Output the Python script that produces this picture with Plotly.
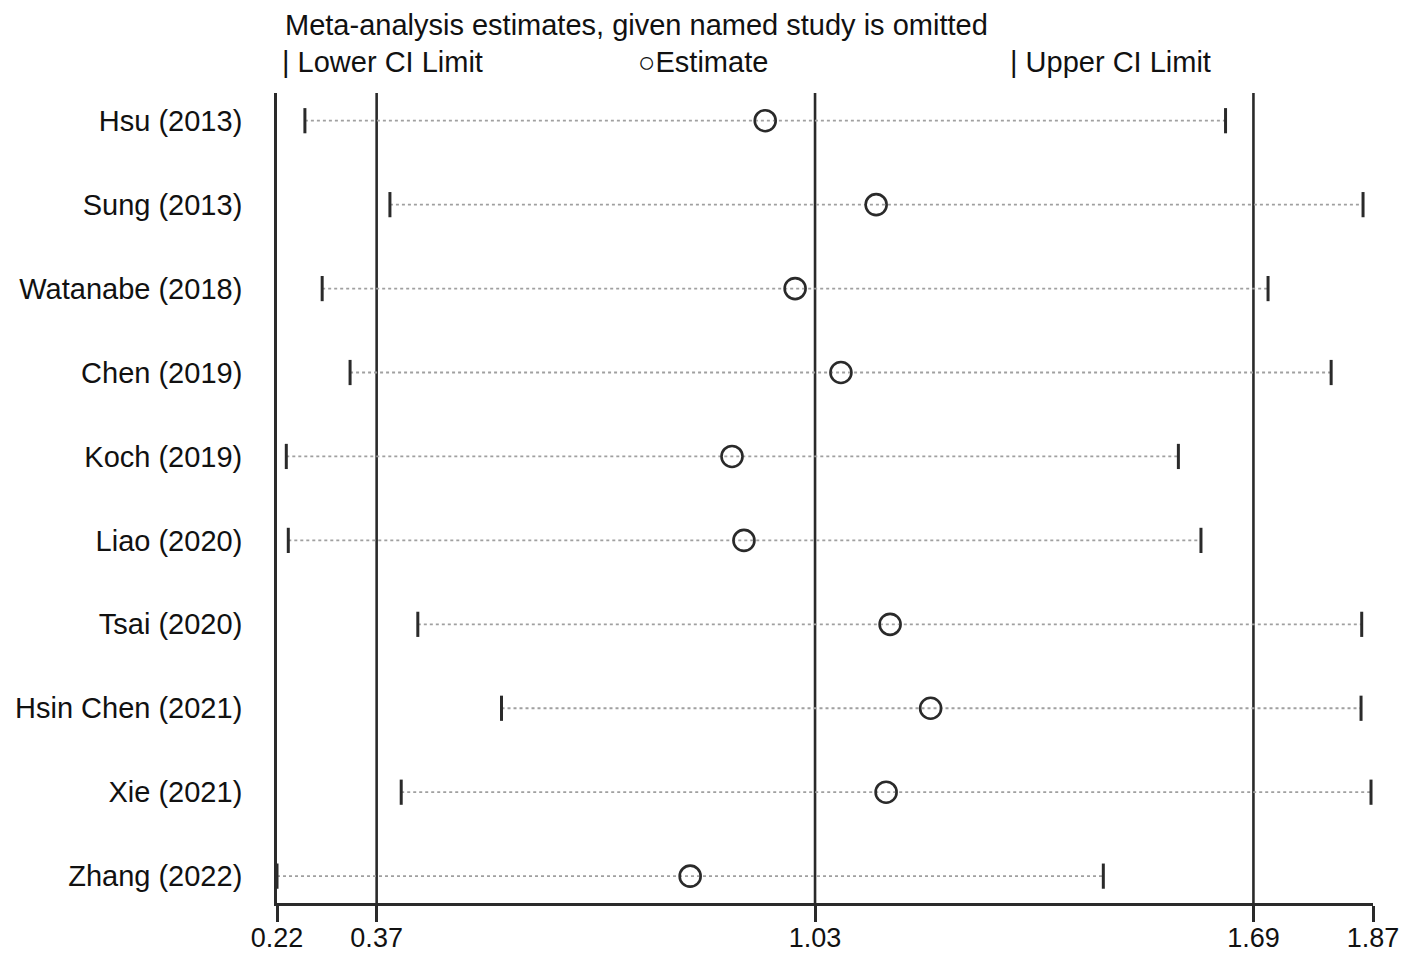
import plotly.graph_objects as go

studies = ["Hsu (2013)", "Sung (2013)", "Watanabe (2018)", "Chen (2019)", "Koch (2019)",
           "Liao (2020)", "Tsai (2020)", "Hsin Chen (2021)", "Xie (2021)", "Zhang (2022)"]
lower = [0.262, 0.390, 0.288, 0.330, 0.234, 0.237, 0.432, 0.558, 0.407, 0.220]
estimate = [0.955, 1.122, 1.000, 1.069, 0.905, 0.923, 1.143, 1.204, 1.137, 0.842]
upper = [1.648, 1.855, 1.712, 1.807, 1.577, 1.611, 1.853, 1.852, 1.867, 1.464]
ref_lines = [0.37, 1.03, 1.69]
x_ticks = [0.22, 0.37, 1.03, 1.69, 1.87]
x_tick_labels = ["0.22", "0.37", "1.03", "1.69", "1.87"]

FONT = "Liberation Sans, Arial, sans-serif"
DARK = "#2a2a2a"

# page offset (body margin) compensation
OFF = 8
W, H = 1417 - OFF, 956 - OFF
L, T = 277 - OFF, 93 - OFF
PW, PH = 1096, 810
R = W - L - PW
B = H - T - PH

fig = go.Figure()

for s, lo, up in zip(studies, lower, upper):
    fig.add_trace(go.Scatter(x=[lo, up], y=[s, s], mode="lines",
                             line=dict(color="#a0a0a0", width=1.8, dash="dot"),
                             showlegend=False, hoverinfo="skip"))

fig.add_trace(go.Scatter(x=lower, y=studies, mode="markers",
                         marker=dict(symbol="line-ns", size=18, line=dict(color=DARK, width=3)),
                         showlegend=False))
fig.add_trace(go.Scatter(x=upper, y=studies, mode="markers",
                         marker=dict(symbol="line-ns", size=18, line=dict(color=DARK, width=3)),
                         showlegend=False))
fig.add_trace(go.Scatter(x=estimate, y=studies, mode="markers",
                         marker=dict(symbol="circle-open", size=21, color=DARK, line=dict(width=2.6)),
                         showlegend=False))

for v in ref_lines:
    fig.add_shape(type="line", x0=v, x1=v, y0=0, y1=1, xref="x", yref="paper",
                  line=dict(color=DARK, width=2.6), layer="below")

fig.update_xaxes(range=[0.22, 1.87], tickvals=x_ticks, ticktext=x_tick_labels,
                 showgrid=False, zeroline=False, showline=True, linecolor=DARK, linewidth=2.8,
                 ticks="outside", ticklen=16, tickwidth=2.8, tickcolor=DARK, automargin=False,
                 ticklabelstandoff=-7,
                 tickfont=dict(family=FONT, size=27, color="#111"))
fig.update_yaxes(type="category", categoryorder="array", categoryarray=studies,
                 range=[9.32, -0.33], showgrid=False, zeroline=False, automargin=False,
                 showline=True, linecolor=DARK, linewidth=2.8, ticks="",
                 ticklabelstandoff=26,
                 tickfont=dict(family=FONT, size=29, color="#111"))

def add_text(txt, px, py, size=29):
    fig.add_annotation(text=txt, x=(px - 277) / PW, y=(903 - py) / PH,
                       xref="paper", yref="paper", xanchor="left", yanchor="middle",
                       showarrow=False, font=dict(family=FONT, size=size, color="#111"))

add_text("Meta-analysis estimates, given named study is omitted", 283, 25, size=29)
add_text("| Lower CI Limit", 280, 62)
add_text("○Estimate", 636, 62)
add_text("| Upper CI Limit", 1008, 62)

fig.update_layout(width=W, height=H, margin=dict(l=L, r=R, t=T, b=B, autoexpand=False),
                  plot_bgcolor="white", paper_bgcolor="white",
                  font=dict(family=FONT, color="#111"))

fig.write_html("out.html")
